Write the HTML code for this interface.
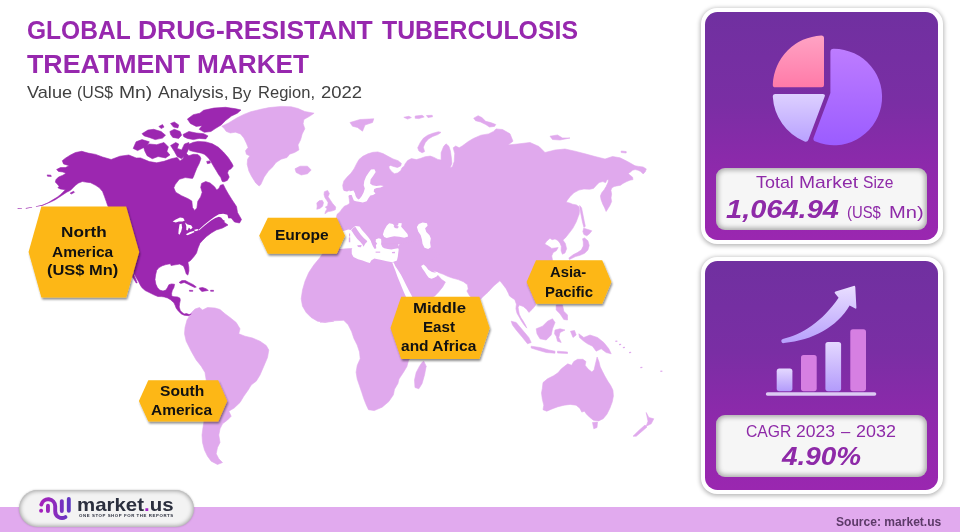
<!DOCTYPE html>
<html lang="en">
<head>
<meta charset="utf-8">
<title>Global Drug-Resistant Tuberculosis Treatment Market</title>
<style>
*{box-sizing:border-box;margin:0;padding:0}
html,body{width:960px;height:532px;overflow:hidden;background:#fff}
body{position:relative;font-family:"Liberation Sans","DejaVu Sans",sans-serif}
.abs{position:absolute}
svg.layer{position:absolute;left:0;top:0;overflow:visible}
/* every text line / word is absolutely placed and width-fitted with scaleX */
.t{position:absolute;white-space:nowrap;line-height:1;transform-origin:0 0}
#band{left:0;top:507px;width:960px;height:25px;background:#e1aaee}
.card{position:absolute;left:701px;width:242px;border-radius:16px;background:#fff;box-shadow:0 1px 4px 1px rgba(0,0,0,.28)}
.card .in{position:absolute;left:4px;top:4px;right:4.7px;bottom:4px;border-radius:12.5px;background:linear-gradient(180deg,#7030a0 0%,#7a2ea4 40%,#9228ad 75%,#9a27b0 100%)}
.box{position:absolute;left:716px;width:211px;border-radius:9px;background:#f6f6f6;box-shadow:inset 0 0 5px 2px rgba(0,0,0,.32)}
#pill{left:19px;top:490px;width:175px;height:36.5px;border-radius:18.5px;background:#f3f3f3;box-shadow:inset 0 0 4px 1px rgba(0,0,0,.35),0 0 2px rgba(0,0,0,.25)}
</style>
</head>
<body>

<!-- shared SVG paint servers -->
<svg class="layer" width="0" height="0" aria-hidden="true">
<defs>
<filter id="sh" x="-20%" y="-20%" width="140%" height="150%"><feGaussianBlur in="SourceAlpha" stdDeviation="1.2"/><feOffset dx="1" dy="1.5"/><feComponentTransfer><feFuncA type="linear" slope=".45"/></feComponentTransfer><feMerge><feMergeNode/><feMergeNode in="SourceGraphic"/></feMerge></filter>
<linearGradient id="gPink" x1="0" y1="0" x2="0" y2="1"><stop offset="0" stop-color="#ffa3c4"/><stop offset="1" stop-color="#ff7aa8"/></linearGradient>
<linearGradient id="gVio" x1="0" y1="0" x2="0" y2="1"><stop offset="0" stop-color="#bd7cff"/><stop offset="1" stop-color="#9b5cff"/></linearGradient>
<linearGradient id="gLav" x1="0" y1="0" x2="0" y2="1"><stop offset="0" stop-color="#ddd0ff"/><stop offset="1" stop-color="#b9a2ff"/></linearGradient>
<linearGradient id="gBarL" x1="0" y1="0" x2="0" y2="1"><stop offset="0" stop-color="#e4d8ff"/><stop offset="1" stop-color="#b39bfb"/></linearGradient>
<linearGradient id="gArr" gradientUnits="userSpaceOnUse" x1="0" y1="286" x2="0" y2="343"><stop offset="0" stop-color="#e9deff"/><stop offset="1" stop-color="#b7a0fd"/></linearGradient>
<linearGradient id="gLogo" gradientUnits="userSpaceOnUse" x1="39" y1="0" x2="71" y2="0"><stop offset="0" stop-color="#a81fbb"/><stop offset=".45" stop-color="#8f2bbd"/><stop offset="1" stop-color="#5b38c2"/></linearGradient>
</defs>
</svg>

<!-- ================= footer band ================= -->
<div id="band" class="abs"></div>

<!-- ================= world map ================= -->
<main>
<svg id="map" class="layer" width="960" height="532" viewBox="0 0 960 532" role="img" aria-label="World map by region">
<g id="land-light" fill="#e0a9ed" stroke="#e0a9ed" stroke-width=".6" stroke-linejoin="round">
<path id="m-greenland" d="M221.8,126.2 L228.6,122.9 L237.1,117.8 L243.9,114.4 L250.6,111.8 L260.8,109.3 L269.2,107.6 L281.1,106.4 L291.2,106.8 L298,108.5 L304.8,111.5 L314.1,113.2 L309.9,116.1 L303.9,119.5 L303.1,123.7 L304.8,128.8 L302.2,133.9 L300.6,139.8 L298,144.9 L298.9,149.9 L294.6,152.5 L289.6,154.2 L287,157.5 L281.1,159.2 L276,162.6 L272.6,166.9 L268.4,171.1 L264.2,177 L260.8,184.6 L259.1,186 L255.7,182.9 L251.5,176.2 L248.9,171.1 L247.2,164.3 L247.6,159.2 L249.8,155.9 L246.4,154.2 L245.5,150.8 L248.1,147.4 L246.4,143.2 L243.9,138.1 L240.5,133.9 L235.4,132.2 L230.3,133 L226.1,131.3 L224.4,128.8Z"/>
<path id="m-iceland" d="M295,168.8 L300,166.2 L307.5,166.2 L311.2,170 L307.5,173.8 L301.2,175 L296.2,172.5Z"/>
<path id="m-svalbard" d="M350,122.5 L360,119.5 L373.8,118.8 L372.5,122.5 L365,125 L362.5,131.2 L357.5,127.5 L352.5,126.2Z"/>
<path id="m-gb" d="M324.4,191.7 L327.6,190.4 L329.4,193.5 L328.1,196.7 L329.9,199.4 L332.6,203.5 L335.7,207.1 L335.3,209.8 L331.7,211.1 L328.1,211.6 L324.9,213.8 L325.5,211.4 L327.1,208.9 L325.3,207.1 L327.6,205.7 L328.1,202.6 L326.7,200.3 L324.9,197.6 L324,194.4Z"/>
<path id="m-ireland" d="M316.8,203 L319,200.8 L322.2,200.3 L323.5,202.6 L322.6,206.2 L319.9,208.4 L316.8,209.3 L317.2,206.2Z"/>
<path id="m-eurasia" d="M337.1,219.7 L336.4,217.5 L337.1,214.3 L339.8,212 L342,208.9 L344.3,206.2 L347.9,204.8 L349.7,203 L349.3,199.4 L348.8,196.2 L350.4,193.7 L349.7,190.1 L347,191.4 L344.3,191 L343.2,189 L342.7,185.3 L343.9,180.9 L347.1,177.1 L350.9,173.3 L354,168.9 L356.5,163.9 L359,159.5 L362.8,156.3 L367.9,153.8 L372.9,152.3 L377.9,151.9 L383,153.6 L388,156.3 L393,158.9 L398.1,160.7 L401.4,163.4 L400.7,165.9 L397.5,167.5 L394.3,166.7 L390.5,165.4 L388.8,166.4 L389.3,168.4 L391.5,171.4 L394.4,173.7 L397.6,173 L400.7,170.8 L402,167.8 L404.1,166.2 L405.1,163.9 L407.6,160.6 L411.4,158.6 L416.4,159.6 L420.2,158.5 L425.2,156.7 L430.3,156.1 L434,157.4 L437.8,159.4 L441.1,160.1 L441.1,152.8 L443.6,146.5 L446,143.8 L448.9,146.3 L450.4,150.9 L451.4,157.9 L451.9,163.5 L450.2,167.4 L452.3,166.9 L454.2,161.6 L454.7,153.5 L453.2,147.8 L455.7,146 L459.2,147.8 L462.5,145.8 L464.5,144.3 L468.3,141.5 L473.3,138.5 L480.9,135.2 L488.5,133.9 L493.5,131.4 L496,128.9 L502.5,129.5 L510,133.8 L513,141.2 L508,145 L517.5,144 L530,142.5 L539,146.5 L545,152.5 L555,150 L565,149 L575,151.2 L585,153.8 L595,156.5 L605,159 L612.5,156.5 L620,157.8 L627.5,161.5 L635,165.8 L638.7,166.4 L643.1,167 L646.3,168.9 L645.1,172 L643.1,173.9 L640.6,171.4 L638.1,170.2 L635.1,169.6 L632.5,170.2 L630.5,172 L628.3,173.4 L630,175.2 L632.5,177.1 L633,179.6 L629.9,180.2 L626.8,181.5 L623,183.4 L620.5,185.3 L616.7,185.9 L614.2,186.5 L611.9,187.8 L610.9,190.3 L611.6,194.1 L611,197.9 L611.6,201.6 L609.9,205.4 L608,208.6 L606.1,211.5 L604.7,207.9 L602.8,204.2 L601.1,199.7 L600.4,196 L601.7,192.8 L604.2,189.7 L606.1,186.5 L607.9,182.7 L608.6,179.7 L607,179.7 L605.6,182.7 L602.9,181.6 L599.2,182.4 L596.4,185.3 L593.5,188.4 L589.7,189.3 L583.9,189 L578.9,190.1 L573.9,192.8 L570.1,196.6 L567.1,200.4 L566.3,202.3 L569.6,203 L572.6,204.2 L576.4,204.9 L578.9,206.7 L579.5,210.5 L579.1,214.2 L578,217.1 L576.3,221.7 L572.8,228.3 L568.8,233.6 L565.3,237.9 L562.9,240.1 L565.3,243.4 L566.6,248.7 L565,252.9 L562.4,254.2 L561.1,250.8 L561.3,246.3 L560,243.2 L557.9,240.5 L555,238.9 L552.1,239.7 L550,238.2 L546.6,241.3 L544.7,244.1 L548.4,246.1 L551.7,248.4 L558.2,247.6 L556.3,250.7 L553.2,252.6 L551.7,255.9 L552.4,259.5 L553.2,262.1 L552,262 L550,275 L543,288 L537,296 L535.9,303.3 L535.1,305.9 L532.2,309.3 L528.9,312.4 L526.6,309.3 L523.2,306.4 L519.3,305.1 L518.1,307.6 L518.7,311 L519.3,314.3 L521,317.7 L523.2,321.1 L525.5,325.1 L526.8,328.1 L526,327.3 L523.8,324.5 L521.5,321.1 L519.3,317.2 L517,313.2 L515.9,308.7 L516.4,304.2 L514.8,299.7 L511.8,297.7 L509.5,296 L508.4,293.2 L506.1,288.7 L502.7,284.2 L499.9,280.8 L493.7,285.9 L488.1,292.1 L482.4,297.2 L478,302 L474,300 L469.6,295.8 L466.9,291 L468.2,288.9 L467.5,284.8 L463.4,281.7 L458.2,279.6 L452.4,278 L447.5,276.3 L443.3,274.3 L439.2,272.8 L434.5,270.9 L430.3,268.9 L426.2,264.1 L423.1,263.1 L420,246 L400,244 L345,244 L335,240Z"/>
<path id="m-arabia" d="M438,275.5 L441.7,279.6 L445.4,282.1 L442.7,286.9 L438.6,292 L434.5,296.2 L425,300 L410,300 L395,290 L392,255 L400,244 L420,240 L440,255 L426.2,263.1Z"/>
<path id="m-africa" d="M313.8,265 L320,257.5 L325,250 L345,244 L398,244 L398,258 L396.2,270 L401.2,280 L406.2,290 L411.2,297.5 L416.2,302.5 L425,310 L440,318 L428,335 L415,350 L408.5,360.5 L406.9,366.6 L403.5,372.2 L399,379 L397.9,383.5 L394.5,389.2 L393.4,394.8 L388.8,401.6 L382.1,407.2 L374.2,410.6 L368.5,409.7 L366.3,405 L364,399.3 L361.8,392.6 L359.5,385.8 L357.2,379 L356.1,372.2 L357.2,365.5 L360.2,358.7 L359.5,351.9 L357.2,345.1 L353.9,338.4 L351.6,331.6 L348.2,324.8 L343.7,320.3 L333.5,320.8 L320,322.1 L333.8,321.2 L325,322.5 L317.5,321.2 L311.2,317.5 L306.2,312.5 L302.5,306.2 L301.2,298.8 L302.5,290 L305,281.2 L308.8,272.5Z"/>
<path id="m-novaya" d="M417.7,147.8 L420.2,142.7 L423.3,138.3 L427.7,135.2 L432.8,133.3 L438.5,131.7 L441,132.4 L437.8,134.6 L432.8,136.4 L428.4,139 L425.2,142.7 L423.3,147.2 L424.6,151.6 L422.1,152.8 L418.9,150.9Z"/>
<path id="m-sevzem" d="M473.7,118.2 L478.1,115.7 L481.9,117.6 L485.7,121.3 L490.7,122.6 L495.8,124.5 L494.5,126.4 L489.5,127 L485.7,124.5 L480.6,122 L475.6,120.7Z"/>
<path id="m-fjl" d="M403.8,117.3 L408.9,116.3 L411.4,117.6 L407.6,119.1Z"/>
<path id="m-fjl2" d="M415.2,116 L422.1,115.3 L424.2,116.9 L418.9,118.6 L415.2,118.3Z"/>
<path id="m-fjl3" d="M426.5,115.5 L432.2,115.3 L432.5,116.8 L428,117.6Z"/>
<path id="m-nsib" d="M550,136.2 L557.5,135 L562.5,138 L570,138 L560,140 L552.5,139.5Z"/>
<path id="m-wrangel" d="M621.2,151 L626.2,151.5 L626.2,153 L621.2,152.5Z"/>
<path id="m-sakhalin" d="M579.7,205.5 L581.6,207.9 L582.9,214.5 L584.2,221.1 L585.3,226.3 L583.9,227.4 L582.4,221.7 L581.1,215.1 L580,209.2Z"/>
<path id="m-hokkaido" d="M583.7,228.2 L587.9,229.5 L591.8,230.8 L589.5,233.7 L586.8,235.8 L583.9,234.5 L582.9,231.6Z"/>
<path id="m-honshu" d="M584.6,237.9 L587.9,240.8 L589.2,245.4 L587.9,250 L584.6,253.3 L580,255.3 L575.4,256.6 L571.4,258.6 L569.5,259.5 L568.9,257.9 L573.4,254.6 L577.4,252.6 L581.3,250 L583.3,246.1 L583.3,242.1 L582.6,238.8Z"/>
<path id="m-madagascar" d="M423.8,361.2 L426.2,366.2 L424.5,375 L422,383.8 L418.8,388.8 L415,387.5 L414.5,380 L416.2,372.5 L419.5,366.2 L422,362.5Z"/>
<path id="m-samerica" d="M190.5,314.5 L191.5,312.5 L195,309 L199.5,307.5 L202.5,310 L207.5,307.5 L215,308 L220,309.5 L225,313.8 L230,317.5 L236.2,322.5 L240,328.8 L238.8,333.8 L245,336.2 L252.5,338 L260,341.2 L266.2,345.5 L268.8,350 L267.5,357.5 L263.8,366.2 L260,375 L256.2,381.2 L251.2,385 L248.2,390 L243.8,396.2 L240,402.5 L234.2,408 L228.8,411.2 L231.2,416.2 L227.5,420 L222.5,423.8 L220,428.8 L218.8,435 L220,442.5 L217.5,447.5 L216.2,453.8 L218.8,458.8 L222.5,462.5 L217.5,464.5 L211.2,461.2 L207.5,456.2 L204.5,450 L202.5,442.5 L202,435 L203,427.5 L203.8,422.5 L206.2,380 L205,372.5 L201.2,366.2 L196.2,360 L191.2,351.2 L186.2,341.2 L184.5,333.8 L185,327.5 L187,320Z"/>
<path id="m-sumatra" d="M511.2,321.2 L516.2,322.5 L522.5,330 L528.8,337.5 L531.2,342.5 L527.5,343.8 L522.5,337.5 L516.2,330 L512.5,325Z"/>
<path id="m-java" d="M531.2,346.2 L540,347.5 L548.8,350 L555,351.2 L555,353.2 L546.2,352.5 L537.5,350 L531.2,348Z"/>
<path id="m-sunda" d="M557.5,351.2 L567.5,352 L567.5,353.5 L557.5,353Z"/>
<path id="m-borneo" d="M536.2,328.8 L542.5,326.2 L547.5,321.2 L552.5,318.8 L555,322.5 L552.5,328.8 L551.2,335 L546.2,340 L540,338.8 L537,333.8Z"/>
<path id="m-sulawesi" d="M555,330 L560,328.8 L565,330 L560,332.5 L558.8,337.5 L561.2,342.5 L557.5,341.2 L556.2,336.2 L554.5,333.8Z"/>
<path id="m-phil" d="M556.2,305 L562.5,305 L563.8,311.2 L567.5,315 L567.5,320 L563.8,319.5 L560,313.8 L556.2,310Z"/>
<path id="m-moluccas" d="M570.5,331.2 L574.5,330.5 L576.2,335 L573,337.5Z"/>
<path id="m-newguinea" d="M578.8,333.8 L583.8,337.5 L590,335 L597.5,337.5 L603.8,342.5 L608.8,348.8 L611.2,353.8 L606.2,352.5 L601.2,348.8 L596.2,351.2 L592.5,346.2 L587.5,343.8 L583.8,341.2 L579.5,337.5Z"/>
<path id="m-australia" d="M542.3,388.6 L543,382.6 L547.5,378.8 L553.5,375.8 L558,372.8 L561.1,369.1 L564.8,366.1 L567.8,363.8 L571.6,365.3 L573.8,361.5 L577.6,359.3 L582.9,359.3 L585.9,361.5 L585.1,365.3 L588.1,369.1 L591.9,372.1 L594.1,369.8 L595.3,364.5 L596.4,360 L597.1,357 L598.9,361.5 L600.2,366.8 L602.4,371.3 L604.7,375.8 L607.7,381.1 L610.7,385.6 L612.9,390.1 L613.4,396.1 L612.2,402.1 L609.9,408.2 L606.9,414.2 L603.2,418.7 L598.6,420.9 L593.4,420.2 L589.6,417.2 L586.6,414.2 L584.4,411.2 L581.8,412.1 L579.8,408.2 L576.1,405.2 L570.1,404.4 L564.1,405.2 L558,406.7 L552,408.9 L546.8,411.2 L543,409.7 L543.8,405.2 L542.3,399.1 L541.5,393.1Z"/>
<path id="m-tasmania" d="M592.5,422.5 L597.5,422 L597,427.5 L593.8,428.8Z"/>
<path id="m-nz_n" d="M646.2,412.5 L648.8,417.5 L653.8,418.8 L651.2,423.8 L646.2,426.2 L648,421.2Z"/>
<path id="m-nz_s" d="M645,425 L647,427 L641.2,432 L636.2,436.2 L633,436.2 L638.8,430.5Z"/>
</g>
<g id="land-dark" fill="#9c27b0" stroke="#9c27b0" stroke-width=".6" stroke-linejoin="round">
<path id="m-na_main" d="M41.5,205.7 L47.8,202.9 L50.9,201 L54.1,199.1 L57.2,197.2 L60.4,194.7 L62.9,192.2 L65.4,189.7 L60.4,189 L57.9,187.8 L59.1,186.3 L57.2,184 L55.3,182.1 L56,179.6 L58.5,177.1 L62.9,175.2 L66,173.3 L62.9,172 L58.5,171.4 L56.6,169.5 L60.4,167.6 L65.4,167.6 L69.2,165.7 L63.5,163.9 L62.3,160.7 L65.4,158.2 L70.5,155 L75.5,152.5 L81.8,151.3 L88.1,153.1 L95.6,154.4 L102.5,157 L111.2,159.5 L120,156.2 L128.8,155 L136.2,158 L140.5,157.9 L149.3,161.6 L156.7,162.8 L164,161.3 L171.3,158.7 L177.2,157.5 L180.1,160.9 L183,158.7 L185.2,152.8 L188.9,155.7 L193.3,154.3 L197.7,154.5 L200.1,156.5 L200.9,158.8 L199.2,163.5 L196.8,168.2 L194.9,172.9 L193.5,176.7 L192.5,178.4 L185.2,177.6 L179.3,179.3 L175.2,184.5 L173.8,187.8 L175.7,192.2 L181.5,195.7 L188.1,198.7 L191.8,201 L192.5,207.5 L194.7,210.4 L196.9,207.9 L197.8,201.3 L200.6,196.9 L202.2,192.2 L200.7,187.4 L201.6,183.4 L205.7,181.5 L210.1,183 L214.5,186.7 L216.7,189.9 L218.9,188.4 L220.4,185.2 L223.3,184.5 L225.5,188.9 L228.4,194 L232.1,199.9 L235,204.3 L236.5,206.5 L237.5,212.5 L241.5,219.5 L239.5,223 L234.5,222 L231.2,218 L227,218 L223.8,222 L228,225 L222.5,228 L216.2,230 L211.2,233 L206.2,236.8 L202.5,240.5 L200,243.2 L198,248 L196.5,253 L194,256.5 L190.5,260.5 L187.9,262.3 L188.8,266.9 L188.9,270.9 L187.9,275.1 L186.3,274 L184.9,269.4 L183.5,266 L179.6,264.1 L175.3,264.8 L171,265.5 L170.5,263.7 L165.9,264.6 L162.4,265.7 L159,267.6 L156.7,270.3 L155.6,274.9 L155,279.5 L155.8,284.1 L157.4,287.5 L159.7,290.1 L163,291 L165.9,290.1 L167.5,287.5 L168.9,284.7 L171.6,283.9 L174.6,284.3 L173.9,287.5 L172.3,290.4 L171.6,293.3 L171.7,296.1 L173.9,296.7 L177.4,296.9 L179.8,298 L180.3,300.1 L179.6,303.6 L179.2,307 L180.3,310.5 L182.1,312.5 L184.2,313.9 L186.5,313.5 L189.1,314.6 L191.3,313.9 L188.8,315.7 L184.2,315.3 L181.4,313.9 L178.5,311.2 L176.2,308.2 L175.1,305.3 L173.9,302.7 L170.5,299.7 L167.6,298 L164.2,296.9 L161.3,296.6 L157.9,296.5 L154.4,295.1 L149.8,292.8 L145.2,290.5 L141.8,287.5 L140.1,284.7 L138.4,281.2 L136.7,278.4 L135.1,275.6 L133.8,273.5 L133,268 L124,250 L117,232 L111,215 L108,206 L107.6,205.4 L106.3,201.6 L104.5,196.6 L102.6,191.6 L99.4,187.8 L95.6,185.3 L90.6,182.7 L85.6,182.1 L82.4,181.5 L78.6,183 L75.5,185.3 L73,187.8 L70.5,190.3 L66.7,192.2 L62.9,194.7 L59.1,197.2 L55.3,199.7 L51.6,201.6Z"/>
<path id="m-baja" d="M130.9,271.5 L133.2,273.8 L135.5,278.4 L137.2,282.9 L136.1,282.9 L133.8,278.9 L131.5,274.9Z"/>
<path id="m-kodiak" d="M70.2,193.1 L73.6,191.3 L74.5,192.3 L71.2,194.1Z"/>
<path id="m-stlawr" d="M47.2,174.9 L50.9,175.2 L51.3,176.4 L47.5,176.2Z"/>
<path id="m-baffin" d="M188.8,144.2 L193.5,142.3 L198.2,141.4 L205.7,141.9 L212.3,143.8 L218.4,147.3 L223.4,152 L228.3,157.7 L232,163.5 L233.2,166.1 L231.1,168.7 L228.5,170.3 L227.5,172.9 L229.2,177.1 L227.3,180.4 L224,181.8 L222.2,181.4 L220.8,177.6 L218.4,174.3 L216.5,171 L214.2,167.3 L212.3,164 L210.6,161.1 L209,158.8 L206.7,156.2 L204.3,154.3 L201.5,153.2 L198.2,152.4 L193.5,151.5 L189.7,150.5 L188.3,147.5Z"/>
<path id="m-foxeisl" d="M206.7,161.4 L209.9,160.9 L210.4,163 L207.4,163.7Z"/>
<path id="m-ellesmere" d="M187.4,119.1 L193.3,114.7 L199.9,113.2 L203.6,110.3 L213.8,108.1 L225.6,107.3 L235.8,108.8 L241,110 L237.3,113.2 L231.4,116.1 L225.6,120.5 L221.2,124.9 L215.3,128.6 L210.9,131.5 L204.3,132.3 L199.2,129.3 L202.1,125.7 L196.2,126.4 L190.4,123.5Z"/>
<path id="m-melville" d="M142,133.7 L147.9,130.1 L153.7,129.3 L161.1,131.5 L165.5,135.2 L162.5,138.1 L155.2,139.6 L149.3,137.4 L144.2,135.9Z"/>
<path id="m-isl1" d="M170.6,123.5 L174.3,122 L178.7,124.9 L177.9,127.9 L173.5,127.1Z"/>
<path id="m-isl2" d="M158.9,126.4 L162.5,124.6 L164,127.1 L161.1,128.6Z"/>
<path id="m-bathurst" d="M169.9,131.5 L174.3,129.3 L180.1,131.5 L181.6,135.2 L178.7,138.4 L172.8,137.4 L170.6,134.5Z"/>
<path id="m-devon" d="M183,134.5 L188.9,131.5 L196.2,133 L203.6,133.7 L208,135.9 L205.8,138.9 L199.2,138.4 L193.3,139.6 L187.4,138.4 L183.8,136.7Z"/>
<path id="m-banks" d="M133.2,148.4 L136.1,141.8 L142,139.6 L149.3,141.8 L147.1,145.5 L142,148.4 L137.6,150.6Z"/>
<path id="m-victoria" d="M143.5,146.9 L149.3,144 L156.7,144.7 L164,142.5 L168.4,146.9 L166.9,151.3 L169.9,155 L165.5,157.9 L158.1,156.5 L152.3,158.7 L147.1,155.7 L144.9,151.3Z"/>
<path id="m-pow" d="M170.6,145.5 L175.7,142.5 L178.7,144 L177.2,148.4 L181.6,149.9 L184.5,144 L188.9,142.5 L188.9,148.4 L186,154.3 L181.6,158.7 L177.2,156.5 L174.3,151.3Z"/>
<path id="m-cuba" d="M179.1,282.4 L181.9,280.6 L185.4,280.6 L188.8,282.4 L193.4,284.7 L196.3,287 L194.6,287.5 L191.1,285.8 L187.7,284.1 L184.2,282.4 L180.8,283.5Z"/>
<path id="m-hisp" d="M199.1,288.1 L202.6,287.5 L206,288.7 L208.3,290.4 L204.9,291 L202,291.5 L200.3,290.1Z"/>
<path id="m-jam" d="M189.4,290.3 L192.8,290.4 L192.8,291.3 L189.5,291.2Z"/>
<path id="m-pr" d="M210.6,290.3 L213.5,290.3 L213.5,291.3 L210.6,291.2Z"/>
</g>
<g id="water" fill="#fff">
<path id="w-superior" d="M172.6,221.6 L175.8,219.5 L180,217.4 L183.2,217.9 L184.7,220.5 L182.6,221.6 L178.9,221.6 L175.8,222.6Z"/>
<path id="w-michigan" d="M179.5,224.2 L181.6,223.7 L182.1,227.4 L181.1,231.6 L179.5,234.7 L178.4,233.7 L178.7,229.5Z"/>
<path id="w-huron" d="M185.1,222.6 L187.6,224.4 L191.1,225.3 L192.6,227.6 L190.7,229.5 L188.9,227.6 L187.6,230.5 L186.3,230 L186.3,226.3Z"/>
<path id="w-erie" d="M185.8,234.2 L190,232.1 L193.7,231.1 L194.7,232.1 L191.1,233.7 L187.4,235.3Z"/>
<path id="w-ontario" d="M193.7,230 L197.4,228.9 L198.9,230 L195.8,231.3Z"/>
<path id="w-stlaw" d="M198.7,229.7 L204.2,224.7 L210.5,219.8 L214.7,216.8 L218.9,214.2 L223.2,213.7 L227.4,214.7 L228.4,218.4 L226.3,221.6 L223.2,220 L221.1,217.4 L218.9,216.8 L215.3,217.9 L211.1,220.6 L204.7,225.5 L199.2,230.3Z"/>
<path id="w-med" d="M340,249.1 L340,231.5 L345.4,230.6 L348.1,229.6 L350.8,230 L353.1,227.7 L355.5,225.9 L359.5,226.4 L362.2,230.2 L365.4,233.8 L368.5,237.4 L370.3,240.1 L371.7,242.4 L376.1,239.2 L378.8,238.3 L381.1,238.9 L381.3,241.5 L381.1,244.2 L382.4,246.9 L384.2,248.2 L387.8,249.1 L391.4,249.6 L395.1,248.7 L398.2,248.2 L398.7,249.6 L398.2,253.2 L397.8,256.8 L396.9,260.4 L392.3,262.2 L386.9,261.3 L381.5,260.1 L377.9,259.2 L374.3,258.6 L371.2,260.4 L369.9,263.1 L367.1,262.3 L362.6,260.5 L358.1,259.2 L353.5,256.9 L351.8,254.1 L351.7,249.6 L352.3,248.3 L349,248.3 L345.4,248.5Z"/>
<path id="w-blacksea" d="M382.9,234.6 L384.2,230.2 L386.7,225.8 L389.2,223.3 L393,223.9 L394.5,226.2 L398,225.4 L398.6,222.9 L401.8,223.3 L401.2,226.7 L404.3,230.2 L407.5,234 L408.1,236.5 L404.3,237.7 L399.3,236.7 L394.2,236.2 L390.5,237.1 L386.7,238 L384.2,237.1Z"/>
<path id="w-caspian" d="M416.9,227 L418.8,223.9 L422.6,222.6 L427,223.3 L427.6,225.8 L425.1,228.3 L426.3,232.1 L429.5,235.2 L430.8,238.4 L430.1,242.8 L430.8,247.2 L428.2,249.1 L424.5,247.8 L422.6,244 L421.9,239.6 L420.7,235.2 L418.2,231.4Z"/>
<path id="w-redsea" d="M392.2,262.5 L393.6,266.2 L395.4,270.8 L397.6,277.1 L399.9,282.5 L401.7,287 L404,292.4 L405.8,296.5 L407.1,299.6 L413.4,299.6 L411.6,295.6 L408.9,290.6 L406.2,285.2 L403.5,279.8 L400.8,274.4 L397.6,269.4 L395.4,266.2 L393.7,262.5Z"/>
<path id="w-pgulf" d="M421.1,266.1 L423.6,264.4 L426.1,266.7 L428.3,269.7 L431.9,271.9 L435.5,272.7 L437.2,271.9 L438.8,273.6 L436.9,276.2 L434.2,277.8 L431.5,278.7 L428.8,277.8 L426.7,275.1 L424.7,271.8 L422.5,268.8Z"/>
<path id="w-baltic" d="M371,169.6 L374.4,169.2 L375.7,172.1 L373.1,175.9 L370.6,179.6 L370.1,183.4 L372.4,185.3 L376.2,185.9 L380.5,185.4 L383.7,186.1 L380.5,187.6 L376.7,187.9 L374.2,189.1 L373.7,191.6 L375.5,193.5 L373,194.9 L370.4,195.6 L368.6,198 L366.7,201.2 L362.8,202.4 L359,201.8 L355.9,201.2 L353.8,200.4 L352.5,197.3 L351.7,195 L349.7,194.9 L345.8,195.1 L343.7,191 L347.1,191.7 L350.2,191.3 L353.5,190.6 L355,193.5 L355.6,196 L356.8,198.1 L358.4,199.4 L359.7,198.7 L361.8,196 L363.6,192.4 L364.8,188.6 L363.7,185.3 L364.3,181 L366.1,176.6 L368.6,172.8Z"/>
</g>
<g id="land-light2" fill="#e0a9ed">
<path id="m-italy" d="M351.2,230.5 L353.1,227.9 L355.3,226.8 L357.7,230.6 L360.8,234.7 L364,238.3 L366.7,240.6 L367.3,242 L366.2,242.5 L365.4,243.5 L364.5,245.1 L363.4,246.7 L362.6,244.7 L360.4,242 L357.3,238.9 L354.3,235 L352.1,231.5Z"/>
<path id="m-sicily" d="M357.1,245.3 L361.7,245.1 L360.9,247.2 L358.1,247.1Z"/>
<path id="m-sardinia" d="M348.8,237.4 L350.2,237.2 L350.3,242.2 L348.8,242.2Z"/>
<path id="m-corsica" d="M349,233.5 L350.1,233.5 L350.1,236.5 L349.1,236.5Z"/>
<path id="m-greece" d="M370.7,240.6 L376.1,239.2 L375.6,241.6 L377.2,243.7 L375.9,245.1 L376.3,248.2 L374.7,249.1 L373.2,246.7 L372,244.2Z"/>
<path id="m-crete" d="M375.6,251.6 L380.2,251.6 L380.2,252.7 L375.6,252.7Z"/>
<path id="m-cyprus" d="M391.9,252.1 L395.1,251.8 L394.9,253.2 L392.2,253.3Z"/>
<path id="m-crimea" d="M393.6,226.2 L396.1,225.4 L399,226.7 L397.4,228.4 L394.9,227.9Z"/>
<path id="m-pac0" d="M615.2,340.8 L617.2,340.5 L617.5,341.8 L615.5,342Z"/>
<path id="m-pac1" d="M622.8,347 L624.8,346.8 L625,348 L623,348.2Z"/>
<path id="m-pac2" d="M629,352 L631,351.8 L631.2,353 L629.2,353.2Z"/>
<path id="m-pac3" d="M640.2,367 L642.2,366.8 L642.5,368 L640.5,368.2Z"/>
<path id="m-pac4" d="M660.2,370.8 L662.2,370.5 L662.5,371.8 L660.5,372Z"/>
<path id="m-pac5" d="M619,344 L621,343.8 L621.2,345 L619.2,345.2Z"/>
</g>
<g id="land-dark2" fill="#9c27b0">
<path id="m-aleut1" d="M41.7,205 L35.8,206.2 L36.1,206.8 L42,205.8Z"/>
<path id="m-aleut2" d="M32,206.9 L25.7,208.1 L25.9,208.7 L32.2,207.6Z"/>
<path id="m-aleut3" d="M17.6,208.3 L22,208.2 L22,208.8 L17.6,208.9Z"/>
</g>
<!-- region label plates -->
<g id="plates" fill="#fdb714" filter="url(#sh)">
<polygon points="28.6,252 41.4,206.5 126.2,206.5 139.2,252 126.2,297.5 41.4,297.5"/>
<polygon points="259.2,235.7 267.8,217.8 336.8,217.8 345,235.7 336.8,253.7 267.8,253.7"/>
<polygon points="526.6,282 536,260.3 602.2,260.3 611.4,282 602.2,303.7 536,303.7"/>
<polygon points="390.5,328 401.2,296.8 479.4,296.8 489.7,328 479.4,359.1 401.2,359.1"/>
<polygon points="138.9,401 148.3,380.3 218.2,380.3 227.2,401 218.2,421.6 148.3,421.6"/>
</g>
</svg>
<div class="t" id="l1a" style="left:60.63px;top:225.11px;font-size:14.4px;color:#111;transform:scaleX(1.1936);font-weight:bold">North</div>
<div class="t" id="l1b" style="left:52.08px;top:244.51px;font-size:14.4px;color:#111;transform:scaleX(1.0773);font-weight:bold">America</div>
<div class="t" id="l1c" style="left:47.40px;top:263.01px;font-size:14.4px;color:#111;transform:scaleX(1.1426);font-weight:bold">(US$ Mn)</div>
<div class="t" id="l2a" style="left:274.73px;top:227.91px;font-size:14.4px;color:#111;transform:scaleX(1.0808);font-weight:bold">Europe</div>
<div class="t" id="l3a" style="left:549.99px;top:264.81px;font-size:14.4px;color:#111;transform:scaleX(1.0315);font-weight:bold">Asia-</div>
<div class="t" id="l3b" style="left:544.77px;top:284.91px;font-size:14.4px;color:#111;transform:scaleX(1.0350);font-weight:bold">Pacific</div>
<div class="t" id="l4a" style="left:412.85px;top:300.71px;font-size:14.4px;color:#111;transform:scaleX(1.1651);font-weight:bold">Middle</div>
<div class="t" id="l4b" style="left:423.05px;top:319.81px;font-size:14.4px;color:#111;transform:scaleX(1.0536);font-weight:bold">East</div>
<div class="t" id="l4c" style="left:401.27px;top:338.81px;font-size:14.4px;color:#111;transform:scaleX(1.0783);font-weight:bold">and Africa</div>
<div class="t" id="l5a" style="left:160.47px;top:383.91px;font-size:14.4px;color:#111;transform:scaleX(1.0861);font-weight:bold">South</div>
<div class="t" id="l5b" style="left:151.48px;top:402.51px;font-size:14.4px;color:#111;transform:scaleX(1.0755);font-weight:bold">America</div>
</main>

<!-- ================= heading ================= -->
<header>
<div class="t" id="t1a" style="left:27.03px;top:17.54px;font-size:25.7px;color:#9728ae;transform:scaleX(0.9557);font-weight:bold">GLOBAL</div>
<div class="t" id="t1b" style="left:138.05px;top:17.54px;font-size:25.7px;color:#9728ae;transform:scaleX(1.0300);font-weight:bold">DRUG-RESISTANT</div>
<div class="t" id="t1c" style="left:381.90px;top:17.54px;font-size:25.7px;color:#9728ae;transform:scaleX(0.9670);font-weight:bold">TUBERCULOSIS</div>
<div class="t" id="t2a" style="left:27.20px;top:51.54px;font-size:25.7px;color:#9728ae;transform:scaleX(1.0420);font-weight:bold">TREATMENT</div>
<div class="t" id="t2b" style="left:197.16px;top:51.54px;font-size:25.7px;color:#9728ae;transform:scaleX(1.0195);font-weight:bold">MARKET</div>
<div class="t" id="t3a" style="left:27.40px;top:83.91px;font-size:17px;color:#404040;transform:scaleX(1.0684)">Value</div>
<div class="t" id="t3b" style="left:77.17px;top:83.91px;font-size:17px;color:#404040;transform:scaleX(0.9312)">(US$</div>
<div class="t" id="t3c" style="left:119.02px;top:83.91px;font-size:17px;color:#404040;transform:scaleX(1.1364)">Mn)</div>
<div class="t" id="t3d" style="left:158.00px;top:83.91px;font-size:17px;color:#404040;transform:scaleX(1.0376)">Analysis,</div>
<div class="t" id="t3e" style="left:232.44px;top:84.86px;font-size:17px;color:#404040;transform:scaleX(0.9709)">By</div>
<div class="t" id="t3f" style="left:257.63px;top:83.91px;font-size:17px;color:#404040;transform:scaleX(0.9736)">Region,</div>
<div class="t" id="t3g" style="left:321.03px;top:84.11px;font-size:17px;color:#404040;transform:scaleX(1.0867)">2022</div>
</header>

<!-- ================= KPI cards ================= -->
<aside>
<div class="card" style="top:8px;height:236px"><div class="in"></div></div>
<div class="card" style="top:257px;height:237px"><div class="in"></div></div>
<div class="box" style="top:168px;height:62px"></div>
<div class="box" style="top:415px;height:62px"></div>
<svg class="layer" width="960" height="532" viewBox="0 0 960 532" aria-hidden="true">
<!-- pie icon -->
<path d="M824,84.8 Q824,87.3 821.5,87.3 H775.4 Q772.6,87.3 772.8,84.4 A51.3,51.3 0 0 1 821.2,35.4 Q824,35.3 824,38 Z" fill="url(#gPink)"/>
<path d="M830.4,93 V52 Q830.4,48.9 833.6,48.8 A48.2,48.2 0 1 1 815.6,141.6 Q812.5,140.3 813.7,137.4 Z" fill="url(#gVio)"/>
<path d="M822.6,93.9 H775.4 Q772.6,93.9 772.8,96.8 A51.6,51.6 0 0 0 804.6,141.5 Q807.3,142.5 808.4,139.8 L824.7,96.6 Q825.7,93.9 822.6,93.9 Z" fill="url(#gLav)"/>
<!-- growth bars icon -->
<rect x="776.7" y="368.6" width="15.7" height="22.6" rx="2.6" fill="url(#gBarL)"/>
<rect x="801" y="355" width="15.7" height="36.2" rx="2.6" fill="#d67fe2"/>
<rect x="825.4" y="342" width="15.7" height="49.2" rx="2.6" fill="url(#gBarL)"/>
<rect x="850.3" y="329.3" width="15.7" height="61.9" rx="2.6" fill="#d67fe2"/>
<rect x="765.8" y="392.2" width="110.5" height="3.6" rx="1.8" fill="#dccbf3"/>
<path d="M782.8,338.9 C801,335.5 823,321 838.6,297.8 L834.9,293.3 Q834,292 835.6,291.6 L853.6,285.9 Q855.2,285.5 855.3,287.2 L856.4,307.4 Q856.4,309.3 854.8,308.3 L849.6,305.6 C837,327 813,340.5 784,343 A2.1,2.1 0 0 1 782.8,338.9 Z" fill="url(#gArr)"/>
</svg>
<div class="t" id="c1a" style="left:756.18px;top:174.31px;font-size:17px;color:#8e2aa8;transform:scaleX(1.0541)">Total</div>
<div class="t" id="c1b" style="left:798.92px;top:174.31px;font-size:17px;color:#8e2aa8;transform:scaleX(1.1359)">Market</div>
<div class="t" id="c1c" style="left:863.16px;top:174.31px;font-size:17px;color:#8e2aa8;transform:scaleX(0.9173)">Size</div>
<div class="t" id="c2" style="left:726.15px;top:195.78px;font-size:26.6px;color:#8e2aa8;transform:scaleX(1.0906);font-weight:bold;font-style:italic">1,064.94</div>
<div class="t" id="c3a" style="left:846.92px;top:204.01px;font-size:17px;color:#8e2aa8;transform:scaleX(0.8752)">(US$</div>
<div class="t" id="c3b" style="left:889.36px;top:204.36px;font-size:17px;color:#8e2aa8;transform:scaleX(1.1845)">Mn)</div>
<div class="t" id="c4a" style="left:746.36px;top:422.51px;font-size:17px;color:#8e2aa8;transform:scaleX(0.9235)">CAGR</div>
<div class="t" id="c4b" style="left:796.38px;top:422.51px;font-size:17px;color:#8e2aa8;transform:scaleX(1.0312)">2023</div>
<div class="t" id="c4c" style="left:841.30px;top:422.51px;font-size:17px;color:#8e2aa8;transform:scaleX(0.9789)">–</div>
<div class="t" id="c4d" style="left:856.36px;top:422.51px;font-size:17px;color:#8e2aa8;transform:scaleX(1.0535)">2032</div>
<div class="t" id="c5" style="left:781.87px;top:443.45px;font-size:26.6px;color:#8e2aa8;transform:scaleX(1.0491);font-weight:bold;font-style:italic">4.90%</div>
</aside>

<!-- ================= footer: logo + source ================= -->
<footer>
<div id="pill" class="abs"></div>
<svg class="layer" width="960" height="532" viewBox="0 0 960 532" aria-hidden="true">
<g fill="none" stroke="url(#gLogo)" stroke-width="3.9" stroke-linecap="round">
<path d="M41.3,504.6 A7.05,7.05 0 0 1 55.2,506.1 V511.2 A6.8,6.8 0 0 0 65.4,517.1"/>
<path d="M47.95,505.7 V511.1"/><path d="M61.8,501.1 V511.1"/><path d="M68.8,499 V510.8"/>
</g>
<circle cx="41.1" cy="510.8" r="2" fill="#a51fbd"/>
</svg>
<div class="t" id="g1" style="left:77.28px;top:496.19px;font-size:18.5px;color:#2b2f3e;transform:scaleX(1.1039);font-weight:bold">market<span style="color:#a324c4">.</span>us</div>
<div class="t" id="g2" style="left:78.87px;top:514.97px;font-size:3.4px;color:#2b2f3e;transform:scaleX(1.2797);font-weight:bold;letter-spacing:.45px">ONE STOP SHOP FOR THE REPORTS</div>
<div class="t" id="s1" style="left:836.41px;top:516.29px;font-size:12.3px;color:#5c3a68;transform:scaleX(0.9814);font-weight:bold">Source: market.us</div>
</footer>
</body>
</html>
